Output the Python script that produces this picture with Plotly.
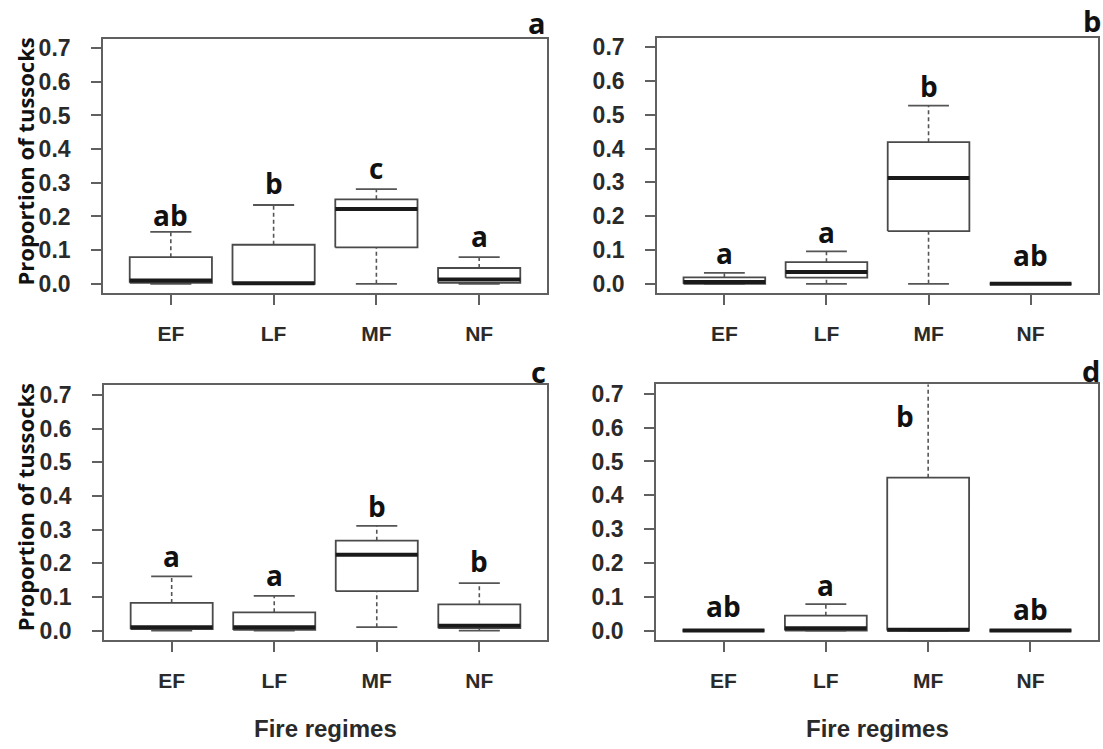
import plotly.graph_objects as go

W, H = 1103, 749

categories = ["EF", "LF", "MF", "NF"]
y_ticks = [0.0, 0.1, 0.2, 0.3, 0.4, 0.5, 0.6, 0.7]

# Panel a
a_lower = [0.0, 0.0, 0.0, 0.0]
a_q1 = [0.003, 0.0, 0.108, 0.003]
a_med = [0.010, 0.002, 0.222, 0.013]
a_q3 = [0.079, 0.116, 0.251, 0.047]
a_upper = [0.154, 0.234, 0.281, 0.079]
a_letters = ["ab", "b", "c", "a"]
a_letter_y = [0.205, 0.298, 0.343, 0.141]

# Panel b
b_lower = [0.0, 0.0, 0.0, 0.0]
b_q1 = [0.0, 0.018, 0.156, 0.0]
b_med = [0.005, 0.035, 0.313, 0.0]
b_q3 = [0.019, 0.064, 0.419, 0.0]
b_upper = [0.032, 0.096, 0.527, 0.0]
b_letters = ["a", "a", "b", "ab"]
b_letter_y = [0.091, 0.154, 0.585, 0.086]

# Panel c
c_lower = [0.0, 0.0, 0.010, 0.0]
c_q1 = [0.004, 0.002, 0.117, 0.007]
c_med = [0.010, 0.010, 0.225, 0.014]
c_q3 = [0.082, 0.054, 0.267, 0.078]
c_upper = [0.161, 0.103, 0.311, 0.141]
c_letters = ["a", "a", "b", "b"]
c_letter_y = [0.220, 0.164, 0.370, 0.206]

# Panel d
d_lower = [0.0, 0.0, 0.0, 0.0]
d_q1 = [0.0, 0.0, 0.0, 0.0]
d_med = [0.0, 0.007, 0.002, 0.0]
d_q3 = [0.0, 0.044, 0.452, 0.0]
d_upper = [0.0, 0.078, 0.780, 0.0]
d_letters = ["ab", "a", "b", "ab"]
d_letter_y = [0.073, 0.136, 0.634, 0.063]
d_letter_dx = [0.0, 0.0, -0.23, 0.0]

panels = [
    dict(name="a", lower=a_lower, q1=a_q1, med=a_med, q3=a_q3, upper=a_upper,
         letters=a_letters, ly=a_letter_y, ldx=[0, 0, 0, 0],
         box_px=(103, 547, 36, 293), tag=(537, 20)),
    dict(name="b", lower=b_lower, q1=b_q1, med=b_med, q3=b_q3, upper=b_upper,
         letters=b_letters, ly=b_letter_y, ldx=[0, 0, 0, 0],
         box_px=(657, 1098, 35, 293), tag=(1092, 18)),
    dict(name="c", lower=c_lower, q1=c_q1, med=c_med, q3=c_q3, upper=c_upper,
         letters=c_letters, ly=c_letter_y, ldx=[0, 0, 0, 0],
         box_px=(104, 547, 386, 643), tag=(538, 372)),
    dict(name="d", lower=d_lower, q1=d_q1, med=d_med, q3=d_q3, upper=d_upper,
         letters=d_letters, ly=d_letter_y, ldx=d_letter_dx,
         box_px=(656, 1098, 385, 643), tag=(1091, 371)),
]

FRAME = "#606060"
BOXC = "#4a4a4a"
half = 0.4
staple = 0.2

fig = go.Figure()
annotations = []
layout_axes = {}

for k, p in enumerate(panels):
    sfx = "" if k == 0 else str(k + 1)
    xa, ya = "x" + sfx, "y" + sfx
    pos = list(range(1, len(categories) + 1))

    bx, by, wx, wy, sx, sy, mx, my = [], [], [], [], [], [], [], []
    for i, xc in enumerate(pos):
        q1, q3, med = p["q1"][i], p["q3"][i], p["med"][i]
        lo, up = p["lower"][i], p["upper"][i]
        bx += [xc - half, xc + half, xc + half, xc - half, xc - half, None]
        by += [q1, q1, q3, q3, q1, None]
        if up > q3:
            wx += [xc, xc, None]
            wy += [q3, up, None]
        if lo < q1:
            wx += [xc, xc, None]
            wy += [lo, q1, None]
        sx += [xc - staple, xc + staple, None, xc - staple, xc + staple, None]
        sy += [up, up, None, lo, lo, None]
        mx += [xc - half, xc + half, None]
        my += [med, med, None]

    fig.add_trace(go.Scatter(x=wx, y=wy, mode="lines", xaxis=xa, yaxis=ya,
                             line=dict(color="#555555", width=1.6, dash="4px,3px"),
                             showlegend=False, hoverinfo="skip"))
    fig.add_trace(go.Scatter(x=sx, y=sy, mode="lines", xaxis=xa, yaxis=ya,
                             line=dict(color="#555555", width=1.8),
                             showlegend=False, hoverinfo="skip"))
    fig.add_trace(go.Scatter(x=bx, y=by, mode="lines", xaxis=xa, yaxis=ya,
                             line=dict(color=BOXC, width=1.8),
                             fill="toself", fillcolor="white",
                             showlegend=False, hoverinfo="skip"))
    fig.add_trace(go.Scatter(x=mx, y=my, mode="lines", xaxis=xa, yaxis=ya,
                             line=dict(color="#1a1a1a", width=4),
                             showlegend=False, hoverinfo="skip"))

    # significance letters
    for i, xc in enumerate(pos):
        annotations.append(dict(x=xc + p["ldx"][i], y=p["ly"][i], xref=xa, yref=ya,
                                text=p["letters"][i], showarrow=False,
                                xanchor="center", yanchor="middle",
                                font=dict(family="Open Sans", size=28, color="#111111",
                                          weight="bold")))

    l, r, t, b = p["box_px"]
    xd = [l / W, r / W]
    yd = [1 - b / H, 1 - t / H]
    axis_common = dict(showline=True, mirror=True, linecolor=FRAME, linewidth=1.6,
                       ticks="outside", ticklen=10, tickwidth=1.6, tickcolor=FRAME,
                       showgrid=False, zeroline=False)
    layout_axes["xaxis" + sfx] = dict(
        axis_common, domain=xd, range=[0.34, 4.66], tickmode="array",
        tickvals=pos, ticktext=categories, anchor=ya, ticklabelstandoff=11,
        tickfont=dict(family="Liberation Sans", size=21, color="#2a2a2a", weight="bold"))
    layout_axes["yaxis" + sfx] = dict(
        axis_common, domain=yd, range=[-0.028, 0.728], tickmode="array",
        tickvals=y_ticks, ticktext=["%.1f" % v for v in y_ticks], anchor=xa,
        ticklabelstandoff=16,
        tickfont=dict(family="Liberation Sans", size=23, color="#2a2a2a", weight="bold"))

    # panel tag
    tx, ty = p["tag"]
    annotations.append(dict(x=tx / W, y=1 - ty / H, xref="paper", yref="paper",
                            text=p["name"], showarrow=False, xanchor="center",
                            yanchor="middle",
                            font=dict(family="Open Sans", size=29, color="#111111",
                                      weight="bold")))

# y-axis titles (left column)
for cy in [160, 509]:
    annotations.append(dict(x=25 / W, y=1 - cy / H, xref="paper", yref="paper",
                            text="Proportion of tussocks", textangle=-90, showarrow=False,
                            xanchor="center", yanchor="middle",
                            font=dict(family="Open Sans", size=22, color="#111111",
                                      weight="bold")))
# x-axis titles (bottom row)
for cx in [325, 877]:
    annotations.append(dict(x=cx / W, y=1 - 732 / H, xref="paper", yref="paper",
                            text="Fire regimes", showarrow=False,
                            xanchor="center", yanchor="middle",
                            font=dict(family="Liberation Sans", size=24, color="#2a2a2a",
                                      weight="bold")))

fig.update_layout(width=W, height=H, margin=dict(l=0, r=0, t=0, b=0),
                  paper_bgcolor="white", plot_bgcolor="white",
                  annotations=annotations, **layout_axes)

fig.write_html("out.html",
               config={"displayModeBar": False},
               post_script="document.body.style.margin='0';"
                           "document.body.style.overflow='hidden';")
